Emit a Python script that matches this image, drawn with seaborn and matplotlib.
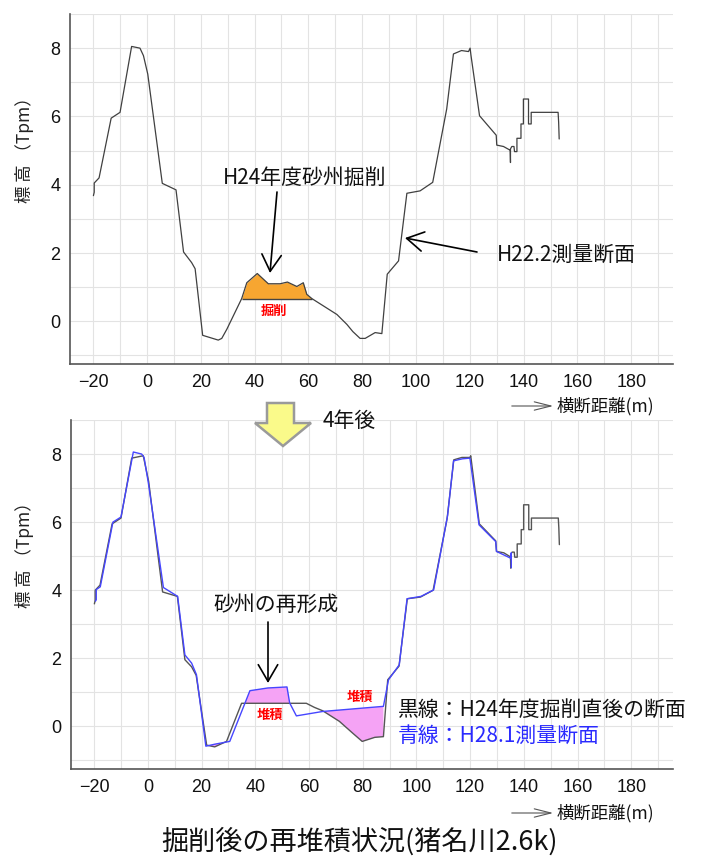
import numpy as np
import matplotlib
matplotlib.use("Agg")
import matplotlib.pyplot as plt
import seaborn as sns
from matplotlib.patches import Polygon
from matplotlib.ticker import MultipleLocator

# ---------------- data ----------------
# Top panel: H22.2 survey cross-section
h22_x = [-19.9, -19.6, -19.6, -17.8, -13.3, -10.0, -5.7, -2.6, -1.3, 0.3, 5.7, 10.8, 13.6, 16.6, 17.9,
         20.7, 26.5, 27.8, 29.7, 35.2, 37.1, 41.0, 45.1, 49.5, 52.2, 55.7, 58.1, 59.4, 61.3, 65.6,
         70.6, 74.3, 76.5, 79.2, 81.1, 84.8, 87.3, 89.3, 93.5, 96.6, 101.5, 106.2, 111.4, 113.9,
         116.9, 119.5, 120.1, 120.4, 123.6, 129.8, 130.0, 132.5, 135.0, 135.1, 135.1, 135.6, 136.4,
         136.6, 137.5, 137.5, 139.0, 139.0, 139.9, 139.9, 141.8, 141.8, 142.8, 142.8, 152.8, 153.0, 153.2]
h22_y = [3.68, 3.78, 4.05, 4.2, 5.95, 6.12, 8.05, 8.0, 7.78, 7.24, 4.04, 3.85, 2.03, 1.72, 1.54,
         -0.41, -0.55, -0.5, -0.23, 0.665, 1.13, 1.40, 1.10, 1.10, 1.15, 1.02, 1.13, 0.79, 0.665, 0.45,
         0.2, -0.09, -0.3, -0.5, -0.5, -0.33, -0.36, 1.38, 1.77, 3.75, 3.82, 4.07, 6.22, 7.83,
         7.93, 7.9, 8.0, 7.8, 6.02, 5.45, 5.16, 5.12, 5.01, 4.65, 5.05, 5.12, 5.12,
         4.97, 4.97, 5.36, 5.36, 5.78, 5.78, 6.51, 6.51, 5.78, 5.78, 6.12, 6.12, 5.83, 5.34]
excav_x0, excav_x1, excav_level = 35.2, 61.3, 0.665

# Bottom panel: black = H24 after excavation, blue = H28.1 survey
h24_x = [-19.9, -19.6, -19.6, -17.8, -13.3, -10.0, -6.0, -1.7, 0.3, 5.5, 11.0, 13.8, 16.3, 18.0,
         21.9, 24.9, 29.3, 34.9, 59.0, 62.0, 65.1, 71.3, 76.3, 79.8, 84.5, 87.7, 89.3, 93.5, 96.6,
         101.5, 106.2, 111.4, 113.9, 116.9, 119.9, 120.2, 123.4, 129.5, 129.8, 132.5, 135.0, 135.1,
         135.1, 135.6, 136.4, 136.6, 137.5, 137.5, 139.0, 139.0, 139.9, 139.9, 141.8, 141.8, 142.8,
         142.8, 152.8, 153.0, 153.2]
h24_y = [3.6, 3.7, 4.0, 4.15, 5.95, 6.12, 7.88, 7.95, 7.2, 3.95, 3.82, 1.96, 1.75, 1.5,
         -0.55, -0.6, -0.44, 0.68, 0.68, 0.56, 0.46, 0.15, -0.2, -0.44, -0.32, -0.3, 1.37, 1.77, 3.75,
         3.8, 4.0, 6.1, 7.83, 7.9, 7.9, 7.95, 5.95, 5.45, 5.14, 5.1, 4.98, 4.65,
         5.05, 5.12, 5.12, 4.97, 4.97, 5.36, 5.36, 5.78, 5.78, 6.51, 6.51, 5.78, 5.78,
         6.12, 6.12, 5.83, 5.34]
h28_x = [-19.5, -19.2, -19.2, -17.7, -13.0, -10.0, -5.4, -2.3, -1.4, 0.2, 5.8, 11.1, 13.8, 16.3,
         18.1, 21.6, 25.0, 30.5, 38.0, 44.7, 51.8, 52.8, 55.3, 65.1, 87.7, 89.6, 93.6, 96.5, 101.7,
         106.4, 111.6, 113.8, 117.1, 119.9, 123.3, 129.5, 129.8, 135.1, 135.3, 135.3]
h28_y = [3.68, 3.72, 4.02, 4.1, 6.0, 6.15, 8.06, 8.0, 7.9, 7.15, 4.08, 3.82, 2.1, 1.86,
         1.52, -0.58, -0.52, -0.44, 1.05, 1.13, 1.16, 0.69, 0.31, 0.44, 0.59, 1.37, 1.81, 3.75, 3.82,
         4.01, 6.2, 7.80, 7.86, 7.88, 5.92, 5.43, 5.14, 4.94, 5.1, 4.66]
fill_range = (20.0, 89.0)

x_major, x_minor = 20, 10
y_major, y_minor = 2, 1
xlim = (-28.6, 195.5)
ylim = (-1.25, 9.0)

# ---------------- style ----------------
sns.set_theme(style="white")
plt.rcParams["font.family"] = ["Noto Sans CJK JP", "DejaVu Sans"]
TICKFONT = ["Liberation Sans Narrow", "Liberation Sans", "DejaVu Sans"]

W, H = 701, 857
fig = plt.figure(figsize=(W / 100, H / 100), dpi=100)


def fx(px):
    return px / W


def fy(py):
    return 1 - py / H


def P(px, py):
    return (fx(px), fy(py))


ax1 = fig.add_axes([fx(70), fy(364), fx(673) - fx(70), fy(14) - fy(364)])
ax2 = fig.add_axes([fx(71), fy(769), fx(673) - fx(71), fy(420) - fy(769)])


def style(ax):
    ax.set_xlim(*xlim)
    ax.set_ylim(*ylim)
    ax.xaxis.set_major_locator(MultipleLocator(x_major))
    ax.xaxis.set_minor_locator(MultipleLocator(x_minor))
    ax.yaxis.set_major_locator(MultipleLocator(y_major))
    ax.yaxis.set_minor_locator(MultipleLocator(y_minor))
    ax.grid(True, which="both", color="#e3e3e3", lw=0.8)
    ax.set_axisbelow(True)
    for s in ["top", "right"]:
        ax.spines[s].set_visible(False)
    for s in ["left", "bottom"]:
        ax.spines[s].set_color("#555555")
        ax.spines[s].set_linewidth(1.2)
    ax.tick_params(which="both", direction="inout", length=11, width=1.0, color="#555555")
    ax.tick_params(which="major", labelsize=13, pad=1.5, labelcolor="#111111")
    ax.set_xlabel("")
    ax.set_ylabel("")
    for lab in ax.get_xticklabels() + ax.get_yticklabels():
        lab.set_fontfamily(TICKFONT)


# ---------------- top panel ----------------
hx, hy = np.array(h22_x), np.array(h22_y)
m = (hx >= excav_x0) & (hx <= excav_x1)
ax1.fill_between(hx[m], hy[m], excav_level, color="#F7A631", lw=0, zorder=2)
ax1.hlines(excav_level, excav_x0, excav_x1, color="#444444", lw=1.0, zorder=3)
sns.lineplot(x=hx, y=hy, sort=False, estimator=None, color="#404040", lw=0.9, ax=ax1, zorder=4)
style(ax1)

# ---------------- bottom panel ----------------
bx, by = np.array(h24_x), np.array(h24_y)
cx, cy = np.array(h28_x), np.array(h28_y)
mb = (bx >= fill_range[0]) & (bx <= fill_range[1])
mc = (cx >= fill_range[0]) & (cx <= fill_range[1])
xs = np.union1d(bx[mb], cx[mc])
yb = np.interp(xs, bx[mb], by[mb])
yc = np.interp(xs, cx[mc], cy[mc])
ax2.fill_between(xs, yb, yc, where=yc > yb, interpolate=True, color="#F5A3F5", lw=0, zorder=2)
sns.lineplot(x=bx, y=by, sort=False, estimator=None, color="#555555", lw=1.0, ax=ax2, zorder=3)
sns.lineplot(x=cx, y=cy, sort=False, estimator=None, color="#4646ff", lw=1.0, ax=ax2, zorder=4)
style(ax2)

# ---------------- annotations ----------------
arrow_kw = dict(arrowstyle="->,head_length=0.6,head_width=0.35", color="black", lw=1.2,
                mutation_scale=20, shrinkA=0, shrinkB=0)

fig.text(*P(305, 178), "H24年度砂州掘削", ha="center", va="center", fontsize=15, color="#111111")
ax1.annotate("", xy=P(270, 273), xytext=P(277, 192), xycoords="figure fraction",
             textcoords="figure fraction", arrowprops=arrow_kw)
fig.text(*P(497, 255), "H22.2測量断面", ha="left", va="center", fontsize=15, color="#111111")
ax1.annotate("", xy=P(405, 238), xytext=P(477, 252), xycoords="figure fraction",
             textcoords="figure fraction", arrowprops=arrow_kw)
fig.text(*P(274, 311), "掘削", ha="center", va="center", fontsize=9.5, color="red", fontweight="bold")

fig.text(*P(276, 605), "砂州の再形成", ha="center", va="center", fontsize=15, color="#111111")
ax2.annotate("", xy=P(268, 683), xytext=P(268, 622), xycoords="figure fraction",
             textcoords="figure fraction", arrowprops=arrow_kw)
fig.text(*P(270, 715), "堆積", ha="center", va="center", fontsize=9.5, color="red", fontweight="bold")
fig.text(*P(360, 697), "堆積", ha="center", va="center", fontsize=9.5, color="red", fontweight="bold")

fig.text(*P(398, 710), "黒線：H24年度掘削直後の断面", ha="left", va="center", fontsize=15, color="#111111")
fig.text(*P(398, 736), "青線：H28.1測量断面", ha="left", va="center", fontsize=15, color="#2a2aff")

# y labels
for yc_ in (146, 551):
    fig.text(*P(24, yc_), "標 高 （Tpm）", rotation=90, ha="center", va="center", fontsize=12.5,
             color="#222222", rotation_mode="anchor")

# x labels with small arrow
for yl in (406, 813):
    fig.add_artist(matplotlib.patches.FancyArrowPatch(
        P(509, yl), P(556, yl), transform=fig.transFigure,
        arrowstyle="->,head_length=1.2,head_width=0.3", mutation_scale=10,
        color="#555555", lw=0.8))
    fig.text(*P(557, yl), "横断距離(m)", ha="left", va="center", fontsize=12.5, color="#111111")

# yellow block arrow between panels + "4年後"
arrow_px = [(267, 403), (294, 403), (294, 423), (311, 423), (283, 446), (255, 423), (267, 423)]
fig.add_artist(Polygon([P(a, b) for a, b in arrow_px], closed=True, transform=fig.transFigure,
                       facecolor="#FAFA8A", edgecolor="#9a9a9a", lw=1.8))
fig.text(*P(323, 421), "4年後", ha="left", va="center", fontsize=15, color="#111111")

# bottom title
fig.text(*P(360, 842), "掘削後の再堆積状況(猪名川2.6k)", ha="center", va="center", fontsize=19.5,
         color="#111111")

fig.savefig("out.png", dpi=100)
